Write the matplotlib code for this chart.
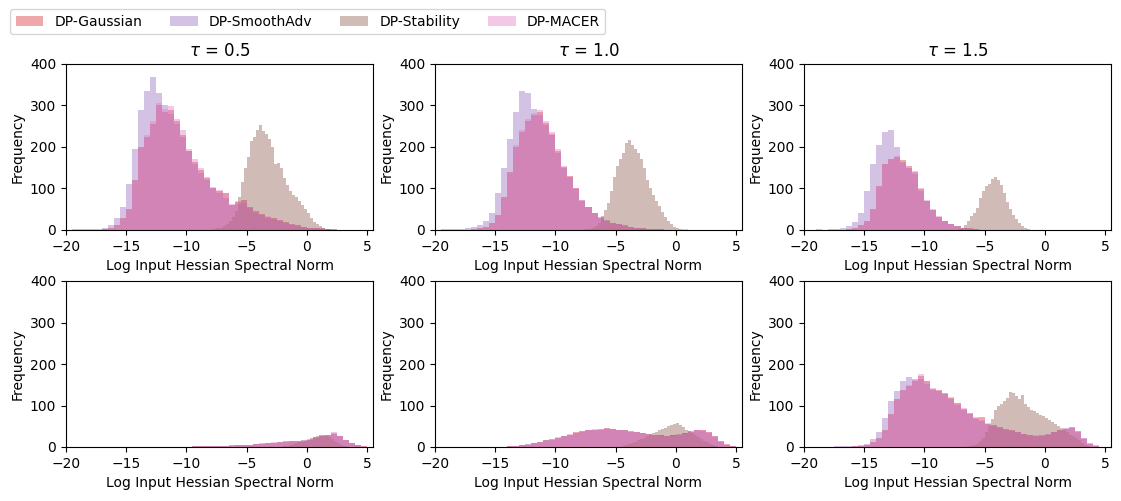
import numpy as np
import matplotlib
matplotlib.use("Agg")
import matplotlib.pyplot as plt

series_names = ["DP-Gaussian", "DP-SmoothAdv", "DP-Stability", "DP-MACER"]
series_colors = ["tab:red", "tab:purple", "tab:brown", "tab:pink"]
tau_labels = ["0.5", "1.0", "1.5"]
x_label = "Log Input Hessian Spectral Norm"
y_label = "Frequency"

WIDE = 0.5    # bin width for Gaussian / SmoothAdv / MACER
NARROW = 0.25  # bin width for Stability

# ---------- top row ----------
# tau = 0.5
g1_start = -17.0
g1 = [2,5,12,28,50,120,200,225,255,300,285,290,262,230,190,165,145,125,100,95,90,60,68,72,55,45,38,32,28,24,19,14,11,8,6,5,4,3,2]
p1_start = -19.5
p1 = [2,3,2,2,3,4,12,28,55,110,195,290,335,368,330,300,280,255,225,190,160,138,120,100,90,78,60,62,65,52,42,36,30,26,22,17,13,10,7,5,4,3,2,1]
s1_start = -8.0
s1 = [1,2,4,6,10,15,22,32,45,80,115,150,175,215,225,240,252,238,232,220,200,160,162,150,125,108,95,85,80,70,60,50,40,28,20,14,10,6,3,2,1]
m1_start = -17.0
m1 = [2,4,11,26,48,112,195,228,262,305,292,298,268,240,195,172,150,128,104,96,88,62,70,70,54,46,37,33,27,23,18,14,10,8,6,5,4,3,2]

# tau = 1.0
g2_start = -17.0
g2 = [2,4,8,18,35,80,140,200,235,262,278,285,258,232,190,152,130,100,70,55,40,30,22,18,15,12,8,6,4,3,2,2,1,1,1,1,1]
p2_start = -19.5
p2 = [2,2,3,3,4,7,12,22,42,90,150,220,285,335,330,292,278,252,228,185,150,128,98,72,56,42,32,24,18,14,10,7,5,4,3,2,2,1,1,1]
s2_start = -7.5
s2 = [2,3,5,9,18,34,48,65,95,128,155,172,185,210,218,205,195,185,172,150,120,100,85,70,58,44,32,22,15,8,4,2]
m2_start = -17.0
m2 = [2,4,8,17,33,76,135,205,240,268,282,290,262,236,195,155,128,102,72,56,41,30,22,18,14,11,8,6,4,3,2,2,1,1,1,2,1]

# tau = 1.5
g3_start = -16.5
g3 = [2,5,12,22,50,105,160,172,176,168,155,140,98,70,48,32,22,14,9,6,4,2,1]
p3_start = -19.5
p3 = [1,2,1,2,3,4,10,20,40,95,160,205,235,240,200,165,150,135,95,70,48,32,22,14,9,5,3,2]
s3_start = -7.25
s3 = [2,5,12,22,34,40,52,78,95,105,112,122,128,120,108,90,68,50,36,26,16,9,5,3,1]
m3_start = -16.5
m3 = [2,5,11,20,48,100,158,170,178,160,150,142,100,72,50,33,22,14,9,6,4,2,1]

# ---------- bottom row ----------
g4_start = -10.0
g4 = [1,2,2,2,2,3,3,3,4,5,6,7,8,9,10,12,14,15,14,15,17,22,26,28,32,26,18,10,5,2]
p4_start = -10.5
p4 = [1,1,2,2,3,2,3,3,4,4,5,6,8,9,9,10,12,13,15,14,16,19,23,27,30,34,27,16,9,4,1]
s4_start = -2.0
s4 = [2,3,5,7,9,11,13,15,18,22,24,27,30,28,26,24,20,15,10,6,3,1]
m4_start = -10.0
m4 = [1,1,2,2,3,3,3,4,4,5,6,7,8,10,11,12,13,15,15,16,18,24,28,30,35,27,17,9,4,2]

g5_start = -14.5
g5 = [1,2,3,5,6,9,12,16,18,22,26,30,35,38,40,42,42,45,44,42,40,38,36,34,32,30,28,27,28,30,33,36,40,40,36,26,15,7,2]
p5_start = -15.0
p5 = [1,1,2,3,5,7,9,12,16,19,22,26,30,34,37,40,42,43,44,43,41,40,37,35,33,31,29,28,27,28,31,34,38,41,39,34,24,13,6,2]
s5_start = -4.5
s5 = [3,5,8,10,13,16,20,22,26,30,33,36,40,44,46,50,53,56,58,54,48,42,38,33,28,24,20,15,11,7,4,2]
m5_start = -14.5
m5 = [1,2,3,4,7,10,13,15,19,23,27,31,34,39,41,43,44,46,43,41,39,37,35,33,31,29,27,26,27,29,32,37,41,42,37,27,14,6,2]

g6_start = -16.5
g6 = [1,2,3,5,12,22,40,80,115,138,148,160,172,158,140,138,130,118,105,92,82,70,72,56,52,48,44,40,36,32,29,27,27,30,35,40,43,45,36,20,8,3,1]
p6_start = -18.0
p6 = [1,2,2,2,3,4,8,20,35,70,110,135,158,168,165,165,152,138,135,128,115,102,90,80,68,62,55,50,46,42,38,35,31,28,27,28,32,37,42,45,48,38,22,10,4,1]
s6_start = -6.5
s6 = [2,3,5,8,14,22,35,50,68,88,98,104,110,118,132,130,122,115,125,104,96,90,87,82,78,74,70,66,60,55,50,45,40,35,30,27,22,16,10,6,3,1]
m6_start = -16.5
m6 = [1,2,3,5,11,20,38,78,112,135,150,162,176,160,142,136,128,120,106,94,80,72,66,58,52,48,44,40,36,32,30,28,28,31,36,41,44,47,38,21,8,3,1]

panels = [
    [(g1_start, g1, WIDE), (p1_start, p1, WIDE), (s1_start, s1, NARROW), (m1_start, m1, WIDE)],
    [(g2_start, g2, WIDE), (p2_start, p2, WIDE), (s2_start, s2, NARROW), (m2_start, m2, WIDE)],
    [(g3_start, g3, WIDE), (p3_start, p3, WIDE), (s3_start, s3, NARROW), (m3_start, m3, WIDE)],
    [(g4_start, g4, WIDE), (p4_start, p4, WIDE), (s4_start, s4, NARROW), (m4_start, m4, WIDE)],
    [(g5_start, g5, WIDE), (p5_start, p5, WIDE), (s5_start, s5, NARROW), (m5_start, m5, WIDE)],
    [(g6_start, g6, WIDE), (p6_start, p6, WIDE), (s6_start, s6, NARROW), (m6_start, m6, WIDE)],
]

W, H = 1121, 501
fig = plt.figure(figsize=(W / 100, H / 100), dpi=100)

col_left = [66, 435, 804]
ax_w = 307
row_top = [64, 281]
ax_h = 166

axes = []
for r in range(2):
    for c in range(3):
        ax = fig.add_axes([col_left[c] / W, 1 - (row_top[r] + ax_h) / H, ax_w / W, ax_h / H])
        axes.append(ax)

handles = None
for i, ax in enumerate(axes):
    hs = []
    for (start, counts, width), name, color in zip(panels[i], series_names, series_colors):
        counts = np.asarray(counts, dtype=float)
        edges = start + width * np.arange(len(counts) + 1)
        _, _, patches = ax.hist(edges[:-1], bins=edges, weights=counts,
                                color=color, alpha=0.4, label=name)
        hs.append(patches[0])
    if handles is None:
        handles = hs
    ax.set_xlim(-20, 5.5)
    ax.set_ylim(0, 400)
    ax.set_xticks([-20, -15, -10, -5, 0, 5])
    ax.set_yticks([0, 100, 200, 300, 400])
    ax.set_xlabel(x_label)
    ax.set_ylabel(y_label)
    if i < 3:
        ax.set_title(r"$\tau$ = " + tau_labels[i], fontsize=12)

fig.legend(handles, series_names, loc="upper left", ncol=4,
           bbox_to_anchor=(10 / W, 1 - 9 / H), borderaxespad=0, fontsize=10)

fig.savefig("out.png", dpi=100)
